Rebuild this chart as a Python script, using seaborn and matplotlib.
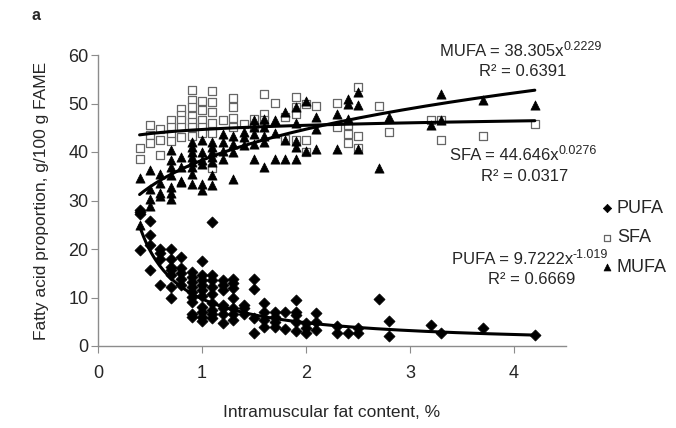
import numpy as np
import pandas as pd
import matplotlib
matplotlib.use("Agg")
import matplotlib.pyplot as plt
import seaborn as sns

# intramuscular fat (%) and fatty acid proportions
pufa_x = [0.4, 0.4, 0.4, 0.4,
          0.5, 0.5, 0.5, 0.5,
          0.6, 0.6, 0.6, 0.6,
          0.7, 0.7, 0.7, 0.7, 0.7, 0.7, 0.7,
          0.8, 0.8, 0.8, 0.8, 0.8,
          0.9, 0.9, 0.9, 0.9, 0.9, 0.9, 0.9, 0.9, 0.9,
          1.0, 1.0, 1.0, 1.0, 1.0, 1.0, 1.0, 1.0, 1.0, 1.0,
          1.1, 1.1, 1.1, 1.1, 1.1, 1.1, 1.1, 1.1, 1.1,
          1.2, 1.2, 1.2, 1.2, 1.2, 1.2, 1.2,
          1.3, 1.3, 1.3, 1.3, 1.3, 1.3, 1.3,
          1.4, 1.4, 1.4,
          1.5, 1.5, 1.5, 1.5,
          1.6, 1.6, 1.6, 1.6,
          1.7, 1.7, 1.7, 1.7,
          1.8, 1.8,
          1.9, 1.9, 1.9, 1.9, 1.9,
          2.0, 2.0, 2.0,
          2.1, 2.1, 2.1,
          2.3, 2.3, 2.4, 2.5, 2.5, 2.7, 2.8, 2.8,
          3.2, 3.3, 3.7, 4.2]
pufa_y = [28.0, 27.6, 27.3, 19.8,
          25.8, 22.8, 20.8, 15.6,
          20.1, 19.1, 18.0, 12.6,
          20.1, 18.0, 16.3, 15.6, 14.6, 12.2, 10.0,
          18.4, 16.0, 15.0, 13.9, 12.6,
          15.3, 14.3, 13.2, 12.2, 11.2, 10.1, 9.1, 6.7, 6.0,
          17.6, 14.6, 13.6, 12.6, 11.5, 10.3, 8.1, 7.1, 6.0, 5.2,
          25.6, 14.6, 13.6, 12.2, 10.8, 8.8, 7.4, 6.7, 5.7,
          13.6, 12.6, 11.5, 8.4, 7.8, 6.7, 4.7,
          13.9, 12.9, 11.9, 9.8, 7.8, 6.7, 5.3,
          8.4, 7.8, 6.7,
          13.9, 11.7, 5.7, 2.6,
          8.8, 7.1, 5.3, 4.0,
          7.1, 6.0, 5.0, 4.0,
          7.1, 3.5,
          9.4, 7.1, 6.4, 5.0, 3.0,
          4.8, 3.8, 2.6,
          6.9, 5.0, 3.4,
          4.1, 2.6, 2.7, 3.8, 2.6, 9.6, 5.2, 2.1,
          4.3, 2.6, 3.8, 2.3]

sfa_x = [0.4, 0.4,
         0.5, 0.5, 0.5,
         0.6, 0.6, 0.6,
         0.7, 0.7, 0.7, 0.7,
         0.8, 0.8, 0.8, 0.8, 0.8,
         0.9, 0.9, 0.9, 0.9, 0.9, 0.9, 0.9,
         1.0, 1.0, 1.0, 1.0, 1.0,
         1.1, 1.1, 1.1, 1.1, 1.1, 1.1,
         1.2,
         1.3, 1.3, 1.3, 1.3,
         1.4,
         1.5, 1.5,
         1.6, 1.6, 1.6,
         1.7,
         1.8, 1.8,
         1.9, 1.9, 1.9, 1.9,
         2.0, 2.0, 2.0,
         2.1,
         2.3, 2.3,
         2.4, 2.4, 2.4,
         2.5, 2.5, 2.5,
         2.7, 2.8, 3.2, 3.3, 3.3, 3.7, 4.2]
sfa_y = [40.9, 38.5,
         45.6, 43.6, 41.8,
         44.7, 42.4, 39.4,
         46.6, 45.1, 43.8, 42.2,
         48.9, 47.7, 46.6, 45.1, 43.1,
         52.8, 50.8, 49.2, 47.5, 46.2, 45.1, 43.4,
         50.6, 48.6, 46.6, 45.1, 43.9,
         52.5, 50.3, 48.2, 45.9, 43.9, 36.6,
         46.6,
         51.2, 49.2, 47.1, 45.1,
         45.8,
         46.9, 45.1,
         52.0, 47.9, 46.6,
         50.1,
         47.2, 42.7,
         51.3, 49.2, 47.9, 42.4,
         49.9, 42.4, 40.0,
         49.4,
         50.1, 45.1,
         45.5, 43.8, 41.8,
         53.5, 43.2, 40.8,
         49.4, 44.1, 46.5, 46.5, 42.4, 43.3, 45.8]

mufa_x = [0.4, 0.4,
          0.5, 0.5, 0.5, 0.5,
          0.6, 0.6, 0.6, 0.6,
          0.7, 0.7, 0.7, 0.7, 0.7, 0.7, 0.7,
          0.8, 0.8, 0.8, 0.8,
          0.9, 0.9, 0.9, 0.9, 0.9, 0.9, 0.9, 0.9,
          1.0, 1.0, 1.0, 1.0, 1.0, 1.0,
          1.1, 1.1, 1.1, 1.1, 1.1, 1.1, 1.1,
          1.2, 1.2, 1.2, 1.2,
          1.3, 1.3, 1.3, 1.3,
          1.4, 1.4, 1.4,
          1.5, 1.5, 1.5, 1.5, 1.5,
          1.6, 1.6, 1.6, 1.6, 1.6,
          1.7, 1.7, 1.7,
          1.8, 1.8, 1.8,
          1.9, 1.9, 1.9, 1.9, 1.9,
          2.0, 2.0,
          2.1, 2.1, 2.1,
          2.3, 2.3,
          2.4, 2.4, 2.4,
          2.5, 2.5, 2.5,
          2.7, 2.8, 3.2, 3.3, 3.3, 3.7, 4.2]
mufa_y = [34.7, 24.9,
          36.3, 32.4, 30.4, 28.9,
          35.5, 33.6, 31.5, 31.0,
          40.5, 38.3, 36.9, 35.2, 32.8, 31.5, 30.4,
          39.0, 36.9, 34.0, 33.8,
          42.0, 41.0, 40.0, 39.0, 38.0, 37.0, 35.5, 33.5,
          42.4, 40.0, 38.3, 37.6, 33.5, 32.1,
          42.0, 41.0, 40.0, 39.0, 37.9, 35.2, 33.1,
          43.8, 42.0, 40.3, 38.6,
          43.4, 41.7, 40.0, 34.5,
          44.1, 43.1, 41.4,
          46.5, 45.1, 43.8, 41.7, 38.6,
          46.9, 45.1, 43.4, 42.0, 37.0,
          46.5, 43.9, 38.6,
          48.2, 42.4, 38.6,
          49.3, 46.0, 42.2, 41.0, 38.5,
          50.6, 40.3,
          47.2, 44.8, 40.7,
          47.9, 40.7,
          51.0, 49.9, 46.8,
          52.3, 49.6, 40.7,
          36.6, 47.2, 45.5, 52.0, 46.5, 50.7, 49.6]

# power trendlines as printed on the chart: y = a * x^b
series = ["PUFA", "SFA", "MUFA"]
coef_a = ["9.7222", "44.646", "38.305"]
coef_b = ["-1.019", "0.0276", "0.2229"]
r2 = ["0.6669", "0.0317", "0.6391"]

df = pd.concat([
    pd.DataFrame({"imf": pufa_x, "value": pufa_y, "fa": "PUFA"}),
    pd.DataFrame({"imf": sfa_x, "value": sfa_y, "fa": "SFA"}),
    pd.DataFrame({"imf": mufa_x, "value": mufa_y, "fa": "MUFA"}),
], ignore_index=True)

sns.set_style("white")
plt.rcParams["font.family"] = ["Liberation Sans", "DejaVu Sans"]

W, H = 676, 428
fig = plt.figure(figsize=(W / 100, H / 100), dpi=100)
ax = fig.add_axes([98 / W, 1 - 346 / H, 468 / W, 291 / H])

styles = {
    "PUFA": dict(marker="D", s=32, color="black", edgecolor="black", linewidth=0.5),
    "SFA": dict(marker="s", s=40, facecolor="white", edgecolor="#666666", linewidth=0.9),
    "MUFA": dict(marker="^", s=44, color="black", edgecolor="black", linewidth=0.5),
}
handles = []
for fa in series:
    d = df[df.fa == fa]
    sns.scatterplot(data=d, x="imf", y="value", ax=ax, legend=False, zorder=3, **styles[fa])
    handles.append(ax.collections[-1])

xs = np.linspace(0.4, 4.2, 200)
for a, b in zip(coef_a, coef_b):
    ax.plot(xs, float(a) * xs ** float(b), color="black", lw=2.2, zorder=4)

ax.set_xlim(0, 4.5)
ax.set_ylim(0, 60)
ax.set_xticks([0, 1, 2, 3, 4])
ax.set_yticks(range(0, 61, 10))
ax.set_xlabel("Intramuscular fat content, %", fontsize=12.5, labelpad=16)
ax.set_ylabel("Fatty acid proportion, g/100 g FAME", fontsize=12.5, labelpad=14)
for side in ["top", "right"]:
    ax.spines[side].set_visible(False)
for side in ["left", "bottom"]:
    ax.spines[side].set_color("#8c8c8c")
    ax.spines[side].set_linewidth(1)
ax.tick_params(axis="both", direction="out", length=5, color="#8c8c8c",
               labelsize=13, left=True, bottom=True)
ax.tick_params(axis="x", pad=9)
ax.tick_params(axis="y", pad=2)

# trendline equations, positioned in pixel space (center x, center y)
fig.canvas.draw()
renderer = fig.canvas.get_renderer()


def px(x, y):
    return x / W, 1 - y / H


def equation(name, a, b, cx, cy):
    base = fig.text(*px(0, cy + 5), f"{name} = {a}x", fontsize=12, va="baseline")
    sup = fig.text(*px(0, cy - 1.5), b, fontsize=9, va="baseline")
    wb = base.get_window_extent(renderer).width
    ws = sup.get_window_extent(renderer).width
    left = cx - (wb + ws) / 2
    base.set_x(left / W)
    sup.set_x((left + wb) / W)


eq_pos = {"MUFA": (521, 51), "SFA": (523, 155), "PUFA": (530, 259)}
for fa, a, b, r in zip(series, coef_a, coef_b, r2):
    cx, cy = eq_pos[fa]
    equation(fa, a, b, cx, cy)
    fig.text(*px(cx + 2, cy + 21), f"R² = {r}", fontsize=12, ha="center", va="center")

fig.legend(handles, series, loc="center left", bbox_to_anchor=px(589, 238),
           frameon=False, fontsize=13, handletextpad=0.05, labelspacing=0.7,
           markerscale=0.75, handlelength=1.0, borderpad=0)

fig.text(*px(31, 15), "a", fontsize=11.5, fontweight="bold", ha="left", va="center")

fig.savefig("out.png", dpi=100, facecolor="white")
